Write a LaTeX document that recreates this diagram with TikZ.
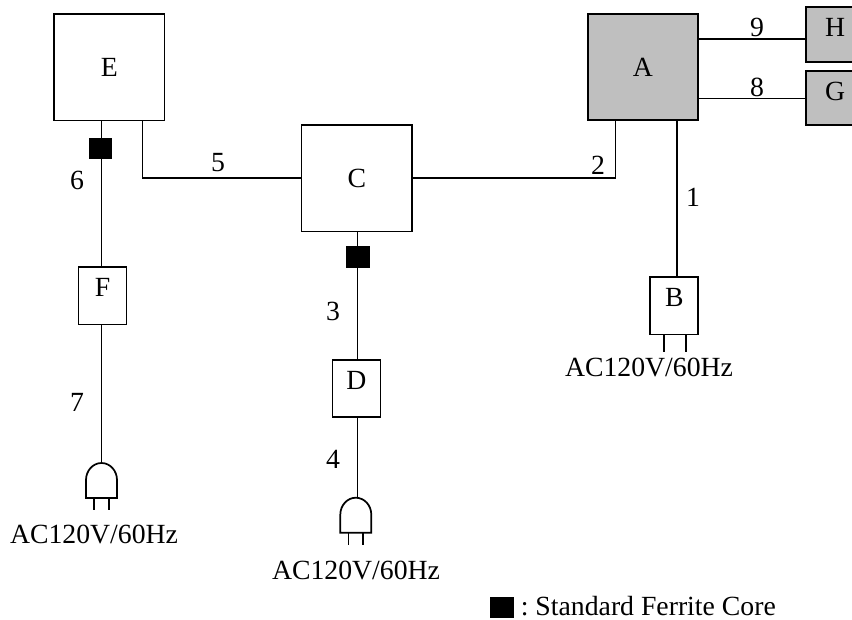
\documentclass[tikz,border=0pt]{standalone}
\usepackage{fontspec}
\setmainfont{Liberation Serif}
\frenchspacing
\definecolor{boxgray}{gray}{0.75}
\tikzset{
  bigbox/.style={draw,inner sep=0pt,minimum width=83pt,minimum height=80pt},
  smallbox/.style={draw,inner sep=0pt,minimum width=36pt,minimum height=43pt,text depth=12pt},
  sidebox/.style={draw,fill=boxgray,inner sep=0pt,minimum width=43.5pt,minimum height=41pt,text depth=10pt},
  corebox/.style={fill=black,inner sep=0pt,minimum width=17.5pt,minimum height=16pt},
  acplug/.pic={
    \draw (-15.5,-17) arc[start angle=180,end angle=0,x radius=15.5,y radius=17] -- (15.5,-35) -- (-15.5,-35) -- cycle;
    \draw (-7.2,-35) -- (-7.2,-47);
    \draw (7.2,-35) -- (7.2,-47);
    \coordinate (-top) at (0,0);
  }
}
\begin{document}
\begin{tikzpicture}[x=0.75pt,y=0.75pt,line width=1.3pt,every node/.style={font=\fontsize{20.8}{24}\selectfont}]
\useasboundingbox (0,-619) rectangle (852,0);
% units
\node[bigbox] (E) at (109.25,-67.25) {E};
\node[bigbox] (C) at (356.75,-178.25) {C};
\node[bigbox,fill=boxgray] (A) at (643,-67) {A};
\node[sidebox] (H) at (835,-34.5) {H};
\node[sidebox] (G) at (835,-98) {G};
\node[smallbox] (F) at (102.5,-295.75) {F};
\node[smallbox] (D) at (356.5,-388.5) {D};
\node[smallbox] (B) at (674.25,-305.75) {B};
% ferrite cores
\node[corebox] (coreE) at (100.5,-148.5) {};
\node[corebox] (coreC) at (358,-257) {};
% plugs
\pic (plugF) at (101.5,-463) {acplug};
\pic (plugD) at (355.8,-497.7) {acplug};
\coordinate (E6) at (101.5,-120.5);
\coordinate (E5) at (142.5,-120.5);
\coordinate (C3) at (357.5,-231.5);
\coordinate (A2) at (615.5,-120);
\coordinate (A1) at (677,-120);
\coordinate (A9) at (698,-39);
\coordinate (A8) at (698,-98.5);
% cables
\draw (A1) -- (A1 |- B.north);
\draw (C.east) -| (A2);
\draw (C3) -- (C3 |- D.north);
\draw (C3 |- D.south) -- (C3 |- plugD-top);
\draw (C.west) -| (E5);
\draw (E6) -- (E6 |- F.north);
\draw (E6 |- F.south) -- (plugF-top);
\draw (A9) -- (A9 -| H.west);
\draw (A8) -- (A8 -| G.west);
\draw (A1 |- B.south) ++(-13.3,0) coordinate (pinL) -- ++(0,-17);
\draw (A1 |- B.south) ++(9,0) coordinate (pinR) -- ++(0,-17);
% cable numbers
\node (lab1) at (693,-197) {1};
\node (lab2) at (598,-165) {2};
\node (lab3) at (333,-311) {3};
\node (lab4) at (333,-459) {4};
\node (lab5) at (218,-163) {5};
\node (lab6) at (77,-180) {6};
\node (lab7) at (77,-402) {7};
\node (lab8) at (757,-87) {8};
\node (lab9) at (757,-27) {9};
% mains labels
\node (acF) at (94,-534) {AC120V/60Hz};
\node (acD) at (356,-570) {AC120V/60Hz};
\node (acB) at (649,-367) {AC120V/60Hz};
% legend
\node[corebox] (legendcore) at (502,-607.5) {};
\node[anchor=west,inner sep=0pt] (legendtext) at (520,-606.5) {: Standard Ferrite Core};
\end{tikzpicture}
\end{document}
